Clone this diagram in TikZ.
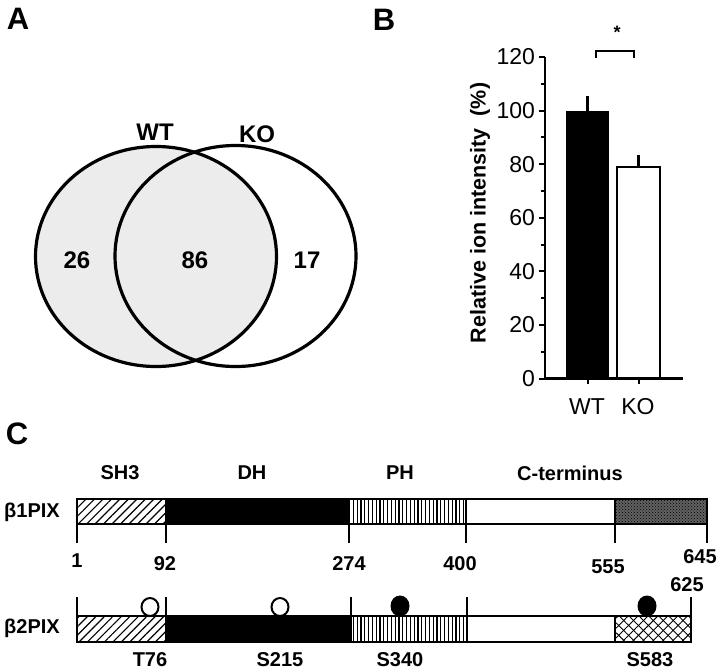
\documentclass[tikz,border=0pt]{standalone}
\usepackage{fontspec}
\setmainfont{Liberation Sans}
\usepackage{xcolor}
\usepackage{tikz}
\usetikzlibrary{calc, patterns, patterns.meta}

\definecolor{venngray}{RGB}{236,236,236}

\begin{document}
\begin{tikzpicture}[x=1pt, y=-1pt,
    panel/.style={font=\fontsize{31}{33}\selectfont\bfseries},
    venntxt/.style={font=\fontsize{24}{26}\selectfont\bfseries},
    ticktxt/.style={font=\fontsize{23}{25}\selectfont},
    axtxt/.style={font=\fontsize{21.5}{23}\selectfont\bfseries},
    domtxt/.style={font=\fontsize{20}{22}\selectfont\bfseries},
    sh3fill/.style={pattern={Lines[angle=45, distance=6pt, line width=1.2pt]}},
    phfill/.style={pattern={Lines[angle=90, distance=3.8pt, line width=1.3pt]}},
    ctfill/.style={pattern={Lines[angle=45, distance=7pt, line width=0.9pt]}},
    ctfillb/.style={pattern={Lines[angle=-45, distance=7pt, line width=0.9pt]}},
    barline/.style={line width=2.5pt},
    tickline/.style={line width=2pt}]

    \useasboundingbox (0,0) rectangle (720,670);

    % 1. Nhãn các phần A, B, C
    \node[panel] (labA) at (18,19) {A};
    \node[panel] (labB) at (384,20) {B};
    \node[panel] (labC) at (17,434) {C};

    % 2. Biểu đồ Venn (phần A)
    \fill[venngray] (156,256.5) ellipse [x radius=120.5, y radius=110];
    \draw[line width=3.2pt] (156,256.5) ellipse [x radius=120.5, y radius=110];
    \draw[line width=3.2pt] (235.5,256) ellipse [x radius=120.5, y radius=110.5];
    \node[venntxt] (wt) at (155,132) {WT};
    \node[venntxt] (ko) at (257,134) {KO};
    \node[venntxt] (n26) at (77,260) {26};
    \node[venntxt] (n86) at (195,260) {86};
    \node[venntxt] (n17) at (307,260) {17};

    % 3. Biểu đồ cột (phần B): 1 đơn vị = 2.68
    \foreach \v in {0,20,...,120}
        \draw[tickline] (545,{378.5-2.68*\v}) -- ++(-6,0)
            node[left, inner sep=3pt, ticktxt] (tick\v) {\v};
    \foreach \v in {10,30,...,110}
        \draw[tickline] (545,{378.5-2.68*\v}) -- ++(-4,0);

    % cột WT và KO
    \fill[black] (566,378.5) rectangle (609,{378.5-2.68*100});
    \draw[barline] (617,378.5) rectangle (660,{378.5-2.68*79});
    \draw[barline] (587.5,{378.5-2.68*100}) -- (587.5,{378.5-2.68*105.5});
    \draw[barline] (638.5,{378.5-2.68*79}) -- (638.5,{378.5-2.68*83.5});

    % trục
    \draw[line width=2.5pt] (545,57) -- (545,378.5) -- (683,378.5);
    \draw[tickline] (587.5,378.5) -- ++(0,5);
    \draw[tickline] (638.5,378.5) -- ++(0,5);
    \node[ticktxt] (xwt) at (587,407) {WT};
    \node[ticktxt] (xko) at (638,407) {KO};
    \node[axtxt, rotate=90] (ylab) at (480,213) {Relative ion intensity\ \ (\%)};

    % dấu sao
    \draw[line width=1.5pt] (596,58) -- (596,51) -- (634,51) -- (634,58);
    \node[font=\fontsize{18}{20}\selectfont\bfseries] (star) at (617,32) {*};

    % 4. Sơ đồ miền beta1PIX (phần C)
    \fill[sh3fill] (77,499) rectangle (166,524);
    \fill[black] (166,499) rectangle (349,524);
    \fill[phfill] (349,499) rectangle (466,524);
    \fill[black!62] (615,499) rectangle (707,524);
    \fill[pattern=crosshatch dots] (615,499) rectangle (707,524);
    \draw[barline] (77,499) rectangle (707,524);
    \foreach \x in {166,349,466,615}
        \draw[barline] (\x,499) -- (\x,524);
    \foreach \x in {77,166,349,466,615,707}
        \draw[tickline] (\x,524) -- (\x,543);

    \node[domtxt] (dSH) at (120,473) {SH3};
    \node[domtxt] (dDH) at (252,473) {DH};
    \node[domtxt] (dPH) at (400,473) {PH};
    \node[domtxt] (dCT) at (570,473) {C-terminus};
    \node[domtxt] (b1) at (32,512) {β1PIX};

    \node[domtxt] (p1) at (77,561) {1};
    \node[domtxt] (p92) at (165,564) {92};
    \node[domtxt] (p274) at (349,564) {274};
    \node[domtxt] (p400) at (460,564) {400};
    \node[domtxt] (p555) at (608,567) {555};
    \node[domtxt] (p645) at (700,557) {645};
    \node[domtxt] (p625) at (687,585) {625};

    % 5. Sơ đồ miền beta2PIX
    \fill[sh3fill] (77,616) rectangle (166,642);
    \fill[black] (166,616) rectangle (351,642);
    \fill[phfill] (351,616) rectangle (467,642);
    \fill[ctfill] (615,616) rectangle (691,642);
    \fill[ctfillb] (615,616) rectangle (691,642);
    \draw[barline] (77,616) rectangle (691,642);
    \foreach \x in {166,351,467,615}
        \draw[barline] (\x,616) -- (\x,642);
    \foreach \x in {77,166,351,467,691}
        \draw[tickline] (\x,597) -- (\x,616);
    \node[domtxt] (b2) at (32,628) {β2PIX};

    % vị trí phosphoryl hóa
    \draw[line width=2pt, fill=white] (150,607) ellipse [x radius=8.5, y radius=9];
    \draw[line width=2pt, fill=white] (280,607) ellipse [x radius=8.5, y radius=9];
    \fill[black] (400,606) ellipse [x radius=9.5, y radius=10.5];
    \fill[black] (647,606) ellipse [x radius=9.5, y radius=10.5];

    \node[domtxt] (sT76) at (150,660) {T76};
    \node[domtxt] (sS215) at (280,660) {S215};
    \node[domtxt] (sS340) at (400,660) {S340};
    \node[domtxt] (sS583) at (650,660) {S583};
\end{tikzpicture}
\end{document}
